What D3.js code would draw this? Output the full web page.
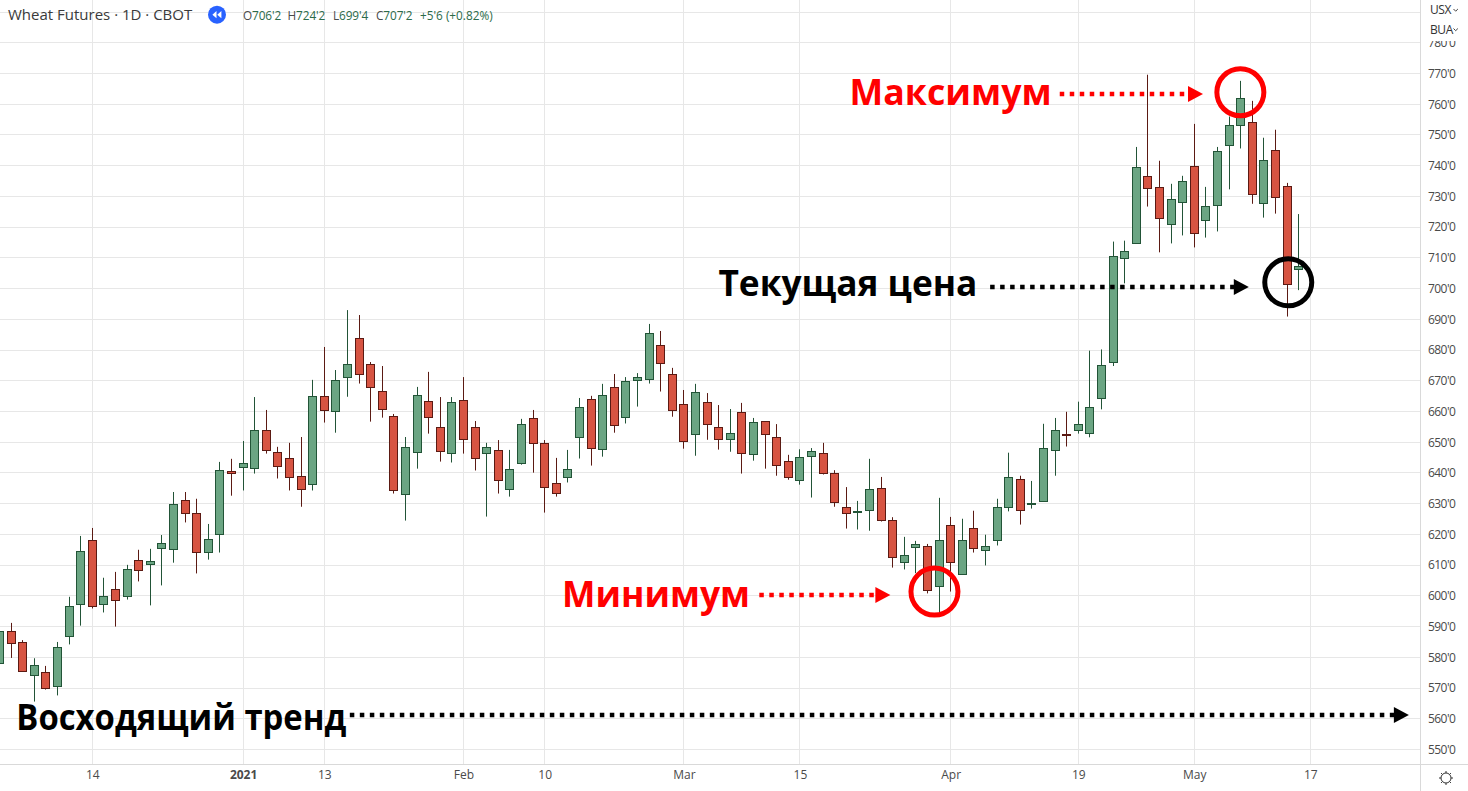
<!DOCTYPE html>
<html><head><meta charset="utf-8">
<style>html,body{margin:0;padding:0;background:#fff;overflow:hidden}svg{display:block}</style>
<script src="https://cdnjs.cloudflare.com/ajax/libs/d3/7.8.5/d3.min.js"></script>
</head><body><svg id="c" width="1468" height="791"></svg>
<script>
const opens=[578.1,588.5,585,574.2,575.2,570.6,586.9,597.3,618.1,597.3,602.2,599.9,611.6,610.3,615.5,615.2,631.1,626.9,614.2,620.1,640.6,641.9,641.5,653.9,646.7,644.8,638.9,636.3,664.9,660.1,671.1,683.8,675.4,666.6,658.4,633.1,646.7,663.3,654.9,646.4,663.6,654.9,646.4,647.4,634.7,643.1,657.8,649.7,636.6,638.6,651.6,664,647.7,667.9,658.1,670.2,670.5,681.5,672.1,662.3,652.6,663,654.9,651,659.7,646.1,656.8,651.6,643.8,637.6,645.4,646.4,639.9,628.8,627.2,627.9,635,624.6,611,615.9,616.2,603.2,623,607.1,622,614.9,618.1,628.9,638,629.8,630.8,647.4,652.8,653.9,653,664.4,676.2,709.9,714.8,736.6,733,721,728.1,739.8,722.3,727.2,746.7,753.2,754.2,727.8,745.1,733.3,706.25];
const highs=[590,591.2,585.6,579.7,577.2,585,599.7,619.5,622.1,605.9,607.8,610.1,615,615.3,619.8,633.8,633.8,631.6,623.4,643.6,644.6,650.4,664.7,660.5,648.5,649.8,651.7,670.3,681,673.5,693,691.4,676.1,674.8,659.2,651.7,668,672.9,664.7,664.7,671.2,656.9,649.8,650.7,647.5,657.6,660.5,650.7,644.9,647.5,664.4,665.1,669,672.2,671.2,672.5,688.5,686.2,674.2,667,669,666,662.1,660.8,662.8,657.9,656.9,655.9,645.9,647.7,648.1,649.8,640.9,635.4,630.9,644.6,638.7,625.6,619.2,617.9,616.9,631.9,625.7,625.1,627.7,619.9,631.6,646.6,639.1,637.4,656,657.9,659.9,663.2,679.8,680.2,715.3,715.6,746.1,769.6,741.6,734.1,736.7,753.6,733.1,746.1,756,767.6,761.1,749.1,751.7,734.4,724.25];
const lows=[577.5,579.8,575.5,565.6,569.5,567.6,584.2,590.3,595.9,594.6,590,598.8,604.7,596.9,603.4,610.8,623.9,607.3,611.8,614.1,632.6,634.3,639.8,646.3,638.2,634.3,629,634.3,656.4,653.1,664.8,669.1,656.7,658,633.3,624.5,641.4,652.8,643.7,643.4,646.3,640.8,625.8,633.3,632.3,642.7,640.1,627.1,632.3,636.9,644.7,642.4,645.3,653.1,656.1,661.6,669.1,666.5,658.3,647.9,645.6,650.8,647.6,646.9,639.8,644,641.4,639.1,637.8,636.2,632,639.5,629,621.9,621.6,621.2,624.2,609.2,608.6,607.4,600.8,594.7,601.4,607,614.1,609.9,616.4,627.5,623.2,628.4,630.6,639.1,648.6,652.8,651.6,660.7,674.8,701.7,714.6,726.7,711.8,714.7,717.3,713.4,716.6,718.6,732.3,745.6,727.6,723.1,724.4,690.9,699.5];
const closes=[588.5,584.6,575.5,577.4,570,583.3,596.6,614.5,596.6,599.9,598.5,608.7,608.4,611.3,617.1,629.8,626.9,614.2,618.4,640.9,639.9,643.2,653.9,647.4,642.2,638.6,634.7,664.9,660.4,670.2,675.4,672.1,667.9,660.7,634.4,648.4,665.3,658.1,647.1,663,651,644.8,648.4,637.6,641.2,655.8,649.7,635.3,633.4,641.2,661.4,648,665.3,655.5,669.8,671.1,685.4,675.7,660.4,650.3,666.2,655.8,651,652.9,646.4,656.5,652.6,642.5,638.6,645.1,647,639.9,630.5,626.9,627.6,634.7,624.6,612.6,613.3,616.8,601.9,618.1,611,618.1,615.5,616.2,628.9,638.6,627.9,630.2,648.1,653.9,652.5,655.9,661.5,675.2,710.6,712.2,739.5,732.7,722.9,729.1,735,718,726.8,744.7,753.2,762,730.7,741.8,729.8,701.5,707.25];

const priceTicks=[550,560,570,580,590,600,610,620,630,640,650,660,670,680,690,700,710,720,730,740,750,760,770,780];
const timeTickIndex=[8,21,28,40,47,59,69,82,93,103,113];
const timeTickLabels=["14","2021","13","Feb","10","Mar","15","Apr","19","May","17"];

const headerTitle="Wheat Futures · 1D · CBOT";
const ohlcLabels=["O","H","L","C"];
const ohlcValues=["706'2","724'2","699'4","707'2"];
const ohlcChange="+5'6 (+0.82%)";

const circleNotes=[
 {i:106.97,p:763.9,c:"#ff0000"},
 {i:111.1,p:702.05,c:"#000000"},
 {i:80.6,p:601.4,c:"#ff0000"}];
const arrowNotes=[
 {i0:91.4,i1:103.75,p:763.3,c:"#ff0000"},
 {i0:85.4,i1:107.7,p:700.5,c:"#000000"},
 {i0:65.5,i1:76.8,p:600.3,c:"#ff0000"},
 {i0:30.2,i1:121.5,p:561.3,c:"#000000"}];
const textNotes=[
 {t:"Максимум",i:90.7,p:759.9,c:"#ff0000",w:202},
 {t:"Текущая цена",i:84.3,p:697.7,c:"#000000",w:259},
 {t:"Минимум",i:64.7,p:596.5,c:"#ff0000",w:188},
 {t:"Восходящий тренд",i:29.9,p:556.4,c:"#000000",w:330}];

const W=1468,H=791,axisX=1420.5,axisY=764.5;
const FONT="'Open Sans','Noto Sans',sans-serif";
const GRID="#e7e7e7";
const svg=d3.select("#c");
const x=d3.scaleLinear().domain([8,113]).range([92.3,1310.3]);
const y=d3.scaleLinear().domain([550,770]).range([749.5,73.5]);
const px=v=>Math.floor(v)+0.5;

const grid=svg.append("g");
grid.selectAll(".h").data(priceTicks.concat([790])).join("line")
 .attr("x1",0).attr("x2",axisX).attr("y1",d=>px(y(d))).attr("y2",d=>px(y(d)))
 .attr("stroke",GRID);
grid.selectAll(".v").data(timeTickIndex).join("line")
 .attr("y1",0).attr("y2",axisY).attr("x1",d=>px(x(d))).attr("x2",d=>px(x(d)))
 .attr("stroke",GRID);

const idx=d3.range(opens.length);
const plot=svg.append("g");
const up=i=>closes[i]>=opens[i];
const cand=plot.selectAll("g").data(idx).join("g");
cand.append("line")
 .attr("x1",i=>px(x(i))).attr("x2",i=>px(x(i)))
 .attr("y1",i=>y(highs[i])).attr("y2",i=>y(lows[i]))
 .attr("stroke",i=>up(i)?"#225437":"#5b1a13").attr("stroke-width",1);
cand.append("rect")
 .attr("x",i=>px(x(i))-4)
 .attr("width",8)
 .attr("y",i=>Math.round(y(Math.max(opens[i],closes[i])))+0.5)
 .attr("height",i=>Math.max(1,Math.round(Math.abs(y(opens[i])-y(closes[i])))))
 .attr("fill",i=>up(i)?"#6ba583":"#d75442")
 .attr("stroke",i=>up(i)?"#225437":"#5b1a13").attr("stroke-width",1);

// axis panels
svg.append("rect").attr("x",axisX).attr("y",0).attr("width",W-axisX).attr("height",H).attr("fill","#fff");
svg.append("rect").attr("x",0).attr("y",axisY).attr("width",W).attr("height",H-axisY).attr("fill","#fff");
const yAxis=d3.axisRight(y).tickValues(priceTicks).tickSize(0).tickPadding(7.5).tickFormat(d=>d+"'0");
const gy=svg.append("g").attr("transform",`translate(${axisX},0)`).call(yAxis);
gy.select(".domain").remove();
gy.selectAll("text").attr("font-family",FONT).attr("font-size",12).attr("fill","#4a4a4a").attr("letter-spacing",-0.55);
const xAxis=d3.axisBottom(x).tickValues(timeTickIndex).tickSize(0).tickPadding(6).tickFormat((d,i)=>timeTickLabels[i]);
const gx=svg.append("g").attr("transform",`translate(0,${axisY})`).call(xAxis);
gx.select(".domain").remove();
gx.selectAll("text").attr("font-family",FONT).attr("font-size",12).attr("fill","#4a4a4a");
gx.selectAll("text").attr("font-weight",(d,i)=>timeTickLabels[i]==="2021"?700:400);
svg.append("line").attr("x1",axisX).attr("x2",axisX).attr("y1",0).attr("y2",H).attr("stroke","#d9d9d9");
svg.append("line").attr("x1",0).attr("x2",W).attr("y1",axisY).attr("y2",axisY).attr("stroke","#d9d9d9");

// currency / unit buttons
svg.append("rect").attr("x",axisX+1).attr("y",0).attr("width",W-axisX).attr("height",41).attr("fill","#fff");
[["USX",14],["BUA",33.5]].forEach(([t,yy])=>{
 svg.append("text").text(t).attr("x",1430).attr("y",yy).attr("font-family",FONT).attr("font-size",12).attr("letter-spacing",-0.4).attr("fill","#333");
 svg.append("path").attr("d",`M1453.5 ${yy-5}l2.2 2.2l2.2 -2.2`).attr("fill","none").attr("stroke","#444").attr("stroke-width",1);
});

// gear icon
const gear=svg.append("g").attr("transform","translate(1446,778)").attr("fill","none").attr("stroke","#333").attr("stroke-width",1);
gear.append("circle").attr("r",5);
d3.range(8).forEach(k=>{const a=k*Math.PI/4;gear.append("line").attr("x1",5*Math.cos(a)).attr("y1",5*Math.sin(a)).attr("x2",7*Math.cos(a)).attr("y2",7*Math.sin(a));});

// header
svg.append("text").text(headerTitle).attr("x",8).attr("y",20).attr("font-family",FONT).attr("font-size",15).attr("fill","#3a3a3a");
const blue=svg.append("g").attr("transform","translate(217,14.7)");
blue.append("circle").attr("r",9).attr("fill","#2962ff");
blue.append("path").attr("d","M-0.5 -3.6L-4.6 0L-0.5 3.6ZM4.4 -3.6L0.3 0L4.4 3.6Z").attr("fill","#fff");
const ohlcX=[243,287.5,333,376];
const tg=svg.append("g").attr("font-family",FONT).attr("font-size",11.8);
ohlcLabels.forEach((l,k)=>{
 const t=tg.append("text").attr("x",ohlcX[k]).attr("y",19.5).attr("letter-spacing",-0.1);
 t.append("tspan").text(l).attr("fill","#4a4a4a");
 t.append("tspan").text(ohlcValues[k]).attr("fill","#2b6a49");
});
tg.append("text").text(ohlcChange).attr("x",420).attr("y",19.5).attr("fill","#2b6a49");

// annotations
const ann=svg.append("g");
circleNotes.forEach(d=>ann.append("circle").attr("cx",x(d.i)).attr("cy",y(d.p)).attr("r",23.5).attr("fill","none").attr("stroke",d.c).attr("stroke-width",5));
arrowNotes.forEach(d=>{
 const x0=x(d.i0),x1=x(d.i1),yy=Math.round(y(d.p));
 ann.append("line").attr("x1",x0).attr("x2",x1-13).attr("y1",yy).attr("y2",yy).attr("stroke",d.c).attr("stroke-width",4.5).attr("stroke-dasharray","4.5 5.5");
 ann.append("path").attr("d",`M${x1-15} ${yy-8}L${x1} ${yy}L${x1-15} ${yy+8}Z`).attr("fill",d.c);
});
textNotes.forEach(d=>ann.append("text").text(d.t).attr("x",x(d.i)).attr("y",y(d.p)).attr("text-anchor","end")
 .attr("textLength",d.w).attr("lengthAdjust","spacingAndGlyphs")
 .attr("font-family",FONT).attr("font-weight",700).attr("font-size",36).attr("fill",d.c));
</script></body></html>
